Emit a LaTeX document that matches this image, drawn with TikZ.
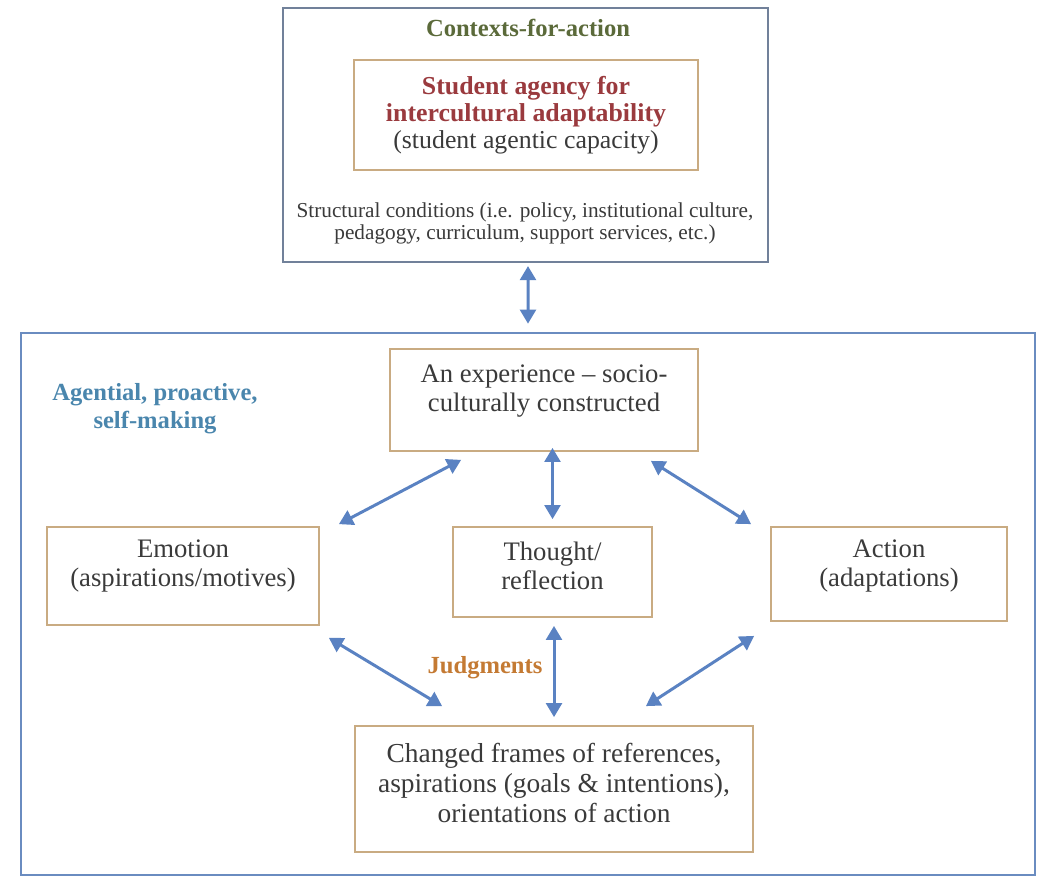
\documentclass[tikz,border=0pt]{standalone}
\usepackage{fontspec}
\setmainfont{Liberation Serif}
\usetikzlibrary{arrows.meta,calc}
\definecolor{topgray}{HTML}{71819A}
\definecolor{frameblue}{HTML}{6A8CC0}
\definecolor{boxtan}{HTML}{C9AB82}
\definecolor{arrowblue}{HTML}{5A82C2}
\definecolor{textgray}{HTML}{3A3A3A}
\definecolor{contextgreen}{HTML}{5B6A3A}
\definecolor{agencyred}{HTML}{9A3A3E}
\definecolor{agentblue}{HTML}{4A86AD}
\definecolor{judgeorange}{HTML}{C47A33}
\begin{document}
\begin{tikzpicture}[x=0.02cm, y=-0.02cm,
    boxsize/.style 2 args={minimum width=#1*0.02cm, minimum height=#2*0.02cm},
    outerbox/.style={draw=frameblue, line width=1.5pt, inner sep=0pt},
    stagebox/.style={draw=boxtan, line width=1pt, inner sep=0pt},
    boxtext/.style={align=center, text=textgray, font=\fontsize{15.2}{16.2}\selectfont},
    heading/.style={align=center, font=\bfseries\fontsize{14}{16}\selectfont},
    twoway/.style={{Triangle[length=8pt,width=9pt]}-{Triangle[length=8pt,width=9pt]},
      draw=arrowblue, line width=1.7pt}]
  \useasboundingbox (0,0) rectangle (1040,877);

  % contexts-for-action frame
  \node[outerbox, draw=topgray, line width=1.2pt, boxsize={485}{254}] (contexts) at (525.5,135) {};
  \node[heading, text=contextgreen] (contextstitle) at (528,28) {Contexts-for-action};
  \node[stagebox, boxsize={344}{110}, boxtext, font=\fontsize{14.7}{15.3}\selectfont] (student) at (526,115)
    {\textcolor{agencyred}{\bfseries Student agency for}\\
     \textcolor{agencyred}{\bfseries intercultural adaptability}\\
     (student agentic capacity)};
  \node[boxtext, font=\fontsize{12.1}{12.5}\selectfont] (structural) at (525,223)
    {Structural conditions (i.e. policy, institutional culture,\\
     pedagogy, curriculum, support services, etc.)};

  % agential frame
  \node[outerbox, boxsize={1014}{542}] (selfmaking) at (528,604) {};
  \node[heading, text=agentblue] (agential) at (155,409) {Agential, proactive,\\self-making};

  % stages
  \node[stagebox, boxsize={308}{102}] (experience) at (544,400) {};
  \node[boxtext] (experiencetext) at (544,391) {An experience -- socio-\\culturally constructed};
  \node[stagebox, boxsize={272}{98}] (emotion) at (183,576) {};
  \node[boxtext] (emotiontext) at (183,566) {Emotion\\(aspirations/motives)};
  \node[stagebox, boxsize={199}{90}] (thought) at (552.5,572) {};
  \node[boxtext] (thoughttext) at (552.5,566) {Thought/\\reflection};
  \node[stagebox, boxsize={236}{94}] (action) at (889,574) {};
  \node[boxtext] (actiontext) at (889,566) {Action\\(adaptations)};
  \node[stagebox, boxsize={398}{126}] (changed) at (554,789) {};
  \node[boxtext, font=\fontsize{15.6}{17}\selectfont] (changedtext) at (554,783)
    {Changed frames of references,\\aspirations (goals \& intentions),\\orientations of action};
  \node[heading, text=judgeorange] (judgments) at (485,668) {Judgments};

  % two-way links
  \draw[twoway] ($(contexts.south)+(2.5,3)$) -- ($(selfmaking.north)+(0,-8)$);
  \draw[twoway] ($(experience.south west)+(72,8)$) -- ($(emotion.north east)+(19,-2)$);
  \draw[twoway] ($(thought.north |- experience.south)+(0,-4)$) -- ($(thought.north)+(0,-7)$);
  \draw[twoway] ($(experience.south east)+(-48,9)$) -- ($(action.north west)+(-19,-2)$);
  \draw[twoway] ($(emotion.south east)+(9,12)$) -- ($(changed.north west)+(88,-19)$);
  \draw[twoway] ($(changed.north |- thought.south)+(0,8)$) -- ($(changed.north)+(0,-8)$);
  \draw[twoway] ($(action.south west)+(-16,14)$) -- ($(changed.north east)+(-108,-19)$);
\end{tikzpicture}
\end{document}
